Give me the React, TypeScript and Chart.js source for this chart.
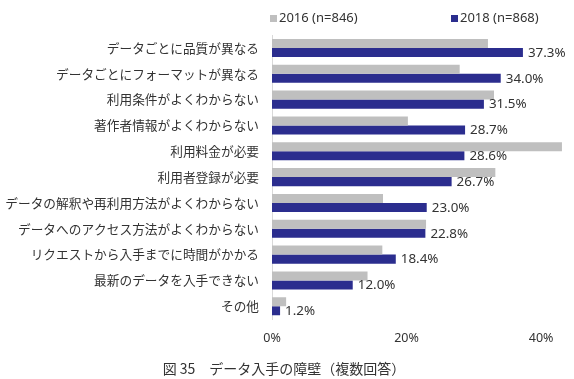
import { useEffect, useRef } from 'react';
import { Chart, registerables } from 'chart.js';

Chart.register(...registerables);

// Survey: obstacles to obtaining data (multiple answers), share of respondents in %
const categories = [
  'データごとに品質が異なる',
  'データごとにフォーマットが異なる',
  '利用条件がよくわからない',
  '著作者情報がよくわからない',
  '利用料金が必要',
  '利用者登録が必要',
  'データの解釈や再利用方法がよくわからない',
  'データへのアクセス方法がよくわからない',
  'リクエストから入手までに時間がかかる',
  '最新のデータを入手できない',
  'その他',
];

const series2016 = [32.1, 27.9, 33.0, 20.2, 43.1, 33.2, 16.5, 22.9, 16.4, 14.2, 2.1];
const series2018 = [37.3, 34.0, 31.5, 28.7, 28.6, 26.7, 23.0, 22.8, 18.4, 12.0, 1.2];

const seriesLabels = ['2016 (n=846)', '2018 (n=868)'];
const seriesColors = ['#bfbfbf', '#2b2d8e'];

const xTickValues = [0, 20, 40];
const chartTitle = '図 35　データ入手の障壁（複数回答）';

const JP_FONT = '"Noto Sans CJK JP", "Noto Sans", sans-serif';
const NUM_FONT = '"Noto Sans", "Noto Sans CJK JP", sans-serif';
const TEXT_COLOR = '#333333';

// Percentage labels after each 2018 bar
const valueLabels = {
  id: 'valueLabels',
  afterDatasetsDraw(chart: any) {
    const { ctx } = chart;
    const meta = chart.getDatasetMeta(1);
    const data = chart.data.datasets[1].data as number[];
    ctx.save();
    ctx.font = `13.4px ${NUM_FONT}`;
    ctx.fillStyle = TEXT_COLOR;
    ctx.textAlign = 'left';
    ctx.textBaseline = 'middle';
    meta.data.forEach((bar: any, i: number) => {
      ctx.fillText(`${data[i].toFixed(1)}%`, bar.x + 5, bar.y + 0.5);
    });
    ctx.restore();
  },
};

// Legend row above the plot, aligned with the plot's left edge
const topLegend = {
  id: 'topLegend',
  afterDraw(chart: any) {
    const { ctx, chartArea } = chart;
    const offsets = [-2, 179];
    ctx.save();
    ctx.font = `13px ${NUM_FONT}`;
    ctx.textAlign = 'left';
    ctx.textBaseline = 'middle';
    chart.data.datasets.forEach((ds: any, i: number) => {
      const x = chartArea.left + offsets[i];
      const y = 18;
      ctx.fillStyle = ds.backgroundColor;
      ctx.fillRect(x, y - 3, 7, 7);
      ctx.fillStyle = TEXT_COLOR;
      ctx.fillText(ds.label, x + 9, y);
    });
    ctx.restore();
  },
};

export default function App() {
  const canvasRef = useRef<HTMLCanvasElement | null>(null);

  useEffect(() => {
    if (!canvasRef.current) return;
    const chart = new Chart(canvasRef.current, {
      type: 'bar',
      data: {
        labels: categories,
        datasets: [
          {
            label: seriesLabels[0],
            data: series2016,
            backgroundColor: seriesColors[0],
            categoryPercentage: 0.7,
            barPercentage: 1.0,
          },
          {
            label: seriesLabels[1],
            data: series2018,
            backgroundColor: seriesColors[1],
            categoryPercentage: 0.7,
            barPercentage: 1.0,
          },
        ],
      },
      options: {
        indexAxis: 'y',
        animation: false,
        responsive: false,
        maintainAspectRatio: false,
        layout: { padding: { top: 35, right: 6, bottom: 0, left: 0 } },
        scales: {
          x: {
            min: 0,
            max: 44,
            grid: { display: false, drawTicks: false },
            border: { display: false },
            afterBuildTicks(scale: any) {
              scale.ticks = xTickValues.map((v) => ({ value: v }));
            },
            ticks: {
              padding: 12,
              color: TEXT_COLOR,
              font: { family: NUM_FONT, size: 12.5 },
              callback: (v: any) => `${v}%`,
            },
          },
          y: {
            grid: { display: false, drawTicks: false },
            border: { display: true, color: '#d9d9d9', width: 1 },
            afterFit(scale: any) {
              scale.width = 272;
            },
            ticks: {
              padding: 13,
              color: TEXT_COLOR,
              font: { family: JP_FONT, size: 12.7 },
              autoSkip: false,
            },
          },
        },
        plugins: {
          legend: { display: false },
          tooltip: { enabled: false },
          title: {
            display: true,
            text: chartTitle,
            position: 'bottom',
            color: TEXT_COLOR,
            font: { family: JP_FONT, size: 14, weight: 'normal' },
            padding: { top: 2, bottom: 2 },
          },
        },
      },
      plugins: [valueLabels, topLegend],
    });
    return () => chart.destroy();
  }, []);

  return (
    <div style={{ position: 'absolute', left: 0, top: 0, width: 574, height: 379, background: '#fff' }}>
      <canvas ref={canvasRef} width={574} height={379} style={{ display: 'block' }} />
    </div>
  );
}
